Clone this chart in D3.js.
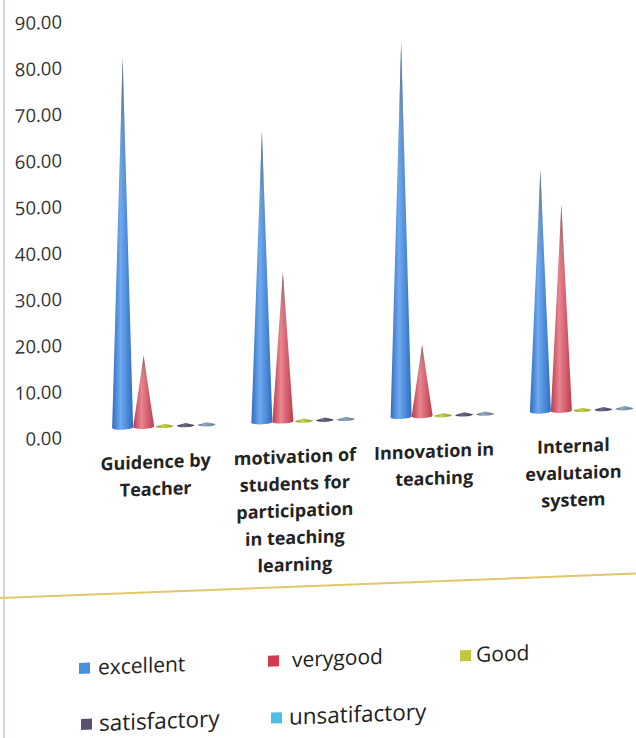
<!DOCTYPE html>
<html>
<head>
<meta charset="utf-8">
<script src="https://cdn.jsdelivr.net/npm/d3@7/dist/d3.min.js"></script>
<style>
  html, body { margin: 0; padding: 0; background: #ffffff; }
  svg { display: block; }
</style>
</head>
<body>
<svg id="chart" width="636" height="738"></svg>
<script>
// Survey categories (each label split into its display lines)
const categories = [
  ["Guidence by", "Teacher"],
  ["motivation of", "students for", "participation", "in teaching", "learning"],
  ["Innovation in", "teaching"],
  ["Internal", "evalutaion", "system"]
];
const seriesNames = ["excellent", "verygood", "Good", "satisfactory", "unsatifactory"];

// Percent of responses per category
const excellent      = [80.0, 63.0, 81.0, 52.3];
const verygood       = [15.4, 32.3, 15.4, 44.6];
const good           = [0.5, 0.5, 0.5, 0.5];
const satisfactory   = [0.5, 0.5, 0.5, 0.5];
const unsatisfactory = [0.5, 0.5, 0.5, 0.5];

const yTicks = [0, 10, 20, 30, 40, 50, 60, 70, 80, 90];

const seriesValues = [excellent, verygood, good, satisfactory, unsatisfactory];
const catKeys = categories.map(c => c.join(" "));

// Cone colours: [dark edge, light highlight]
const coneColors = {
  "excellent":     ["#2f6cc0", "#6eaaf0"],
  "verygood":      ["#bb3b4c", "#ea8590"],
  "Good":          ["#8e9a24", "#c9d24e"],
  "satisfactory":  ["#3f3a52", "#6e6784"],
  "unsatifactory": ["#5f7890", "#8fa8c0"]
};
const legendColors = {
  "excellent": "#4a8fdc",
  "verygood": "#d23b4c",
  "Good": "#c2c93e",
  "satisfactory": "#5a5070",
  "unsatifactory": "#4fbde6"
};

const svg = d3.select("#chart");

// thin frame edge on the left
svg.append("line")
  .attr("x1", 4).attr("x2", 4).attr("y1", 0).attr("y2", 738)
  .attr("stroke", "#cdd5de").attr("stroke-width", 2);

// whole chart sits on a slight slant
const g = svg.append("g").attr("transform", "skewY(-2.2)");

const x0 = d3.scaleBand().domain(catKeys).range([86, 643]).padding(0);
const depthX = 9, depthY = -8;
const x1 = d3.scaleBand().domain(seriesNames).range([-52.5, 52.5]).padding(0);
const y = d3.scaleLinear().domain([0, 90]).range([440.4, 24.4]);

// gradients
const defs = svg.append("defs");
seriesNames.forEach((s, i) => {
  const [dark, light] = coneColors[s];
  const gr = defs.append("linearGradient")
    .attr("id", "cone" + i)
    .attr("x1", "0%").attr("x2", "100%").attr("y1", "0%").attr("y2", "0%");
  gr.append("stop").attr("offset", "0%").attr("stop-color", dark);
  gr.append("stop").attr("offset", "40%").attr("stop-color", light);
  gr.append("stop").attr("offset", "100%").attr("stop-color", dark);
});
// greyish shading toward the cone tips
const tipShade = defs.append("linearGradient")
  .attr("id", "tipShade")
  .attr("x1", "0%").attr("x2", "0%").attr("y1", "0%").attr("y2", "100%");
tipShade.append("stop").attr("offset", "0%").attr("stop-color", "#555").attr("stop-opacity", 0.75);
tipShade.append("stop").attr("offset", "22%").attr("stop-color", "#777").attr("stop-opacity", 0.2);
tipShade.append("stop").attr("offset", "40%").attr("stop-color", "#777").attr("stop-opacity", 0);

// y axis labels
const yAxis = d3.axisLeft(y)
  .tickValues(yTicks)
  .tickFormat(d3.format(".2f"))
  .tickSize(0)
  .tickPadding(0);
const yg = g.append("g").attr("transform", "translate(62,0)").call(yAxis);
yg.select(".domain").remove();
yg.selectAll("text")
  .attr("font-family", "'Open Sans', sans-serif")
  .attr("font-size", 18.5)
  .attr("fill", "#333");

// cones
const base = y(0) + depthY;
categories.forEach((cat, ci) => {
  const cx0 = x0(catKeys[ci]) + x0.bandwidth() / 2 + depthX;
  seriesNames.forEach((s, si) => {
    const v = seriesValues[si][ci];
    const cx = cx0 + x1(s) + x1.bandwidth() / 2;
    const w = si < 2 ? x1.bandwidth() : x1.bandwidth() * 0.85;
    const rx = w / 2, ry = 2;
    const tip = y(v) + depthY;
    const p = d3.path();
    p.moveTo(cx - rx, base);
    p.lineTo(cx, tip);
    p.lineTo(cx + rx, base);
    const d = p.toString() + ` A ${rx} ${ry} 0 0 1 ${cx - rx} ${base} Z`;
    g.append("path")
      .attr("d", d)
      .attr("fill", `url(#cone${si})`);
    if (base - tip > 20) {
      g.append("path")
        .attr("d", d)
        .attr("fill", "url(#tipShade)");
    }
  });
});

// category labels
categories.forEach((cat, ci) => {
  const t = g.append("text")
    .attr("x", x0(catKeys[ci]) + x0.bandwidth() / 2)
    .attr("y", 468)
    .attr("text-anchor", "middle")
    .attr("font-family", "'Open Sans', sans-serif")
    .attr("font-weight", "bold")
    .attr("font-size", 18)
    .attr("fill", "#222");
  cat.forEach((line, li) => {
    t.append("tspan")
      .attr("x", x0(catKeys[ci]) + x0.bandwidth() / 2)
      .attr("dy", li === 0 ? "0.35em" : 27)
      .text(line);
  });
});

// separator line
g.append("line")
  .attr("x1", 0).attr("x2", 636).attr("y1", 598).attr("y2", 598)
  .attr("stroke", "#e2c66a").attr("stroke-width", 2);

// legend: [marker x, text x, centre y, font size]
const legendPos = [
  [79, 98, 671, 21],
  [268, 292, 671, 21],
  [460, 476, 673, 21],
  [81, 99, 727, 22.5],
  [271, 289, 728, 22.5]
];
seriesNames.forEach((s, i) => {
  const [mx, tx, ly, fs] = legendPos[i];
  g.append("rect")
    .attr("x", mx).attr("y", ly - 5)
    .attr("width", 11).attr("height", 11)
    .attr("fill", legendColors[s]);
  g.append("text")
    .attr("x", tx).attr("y", ly)
    .attr("dy", "0.35em")
    .attr("font-family", "'Open Sans', sans-serif")
    .attr("font-size", fs)
    .attr("fill", "#222")
    .text(s);
});
</script>
</body>
</html>
